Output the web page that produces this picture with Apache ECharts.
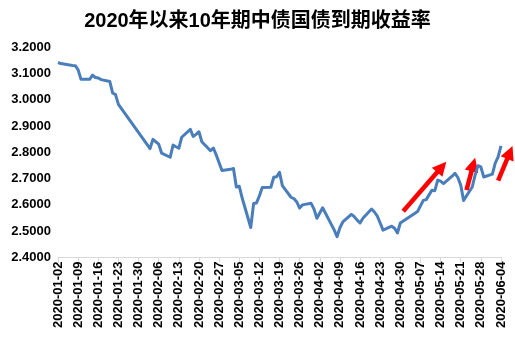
<!DOCTYPE html>
<html>
<head>
<meta charset="utf-8">
<script src="https://cdn.jsdelivr.net/npm/echarts@6/dist/echarts.min.js"></script>
<style>html,body{margin:0;padding:0;background:#fff}#c{width:515px;height:357px}</style>
</head>
<body>
<div id="c"></div>
<script>
const titleText = '2020年以来10年期中债国债到期收益率';
const startDate = '2020-01-02';
const tickLabels = ['2020-01-02','2020-01-09','2020-01-16','2020-01-23','2020-01-30','2020-02-06','2020-02-13','2020-02-20','2020-02-27','2020-03-05','2020-03-12','2020-03-19','2020-03-26','2020-04-02','2020-04-09','2020-04-16','2020-04-23','2020-04-30','2020-05-07','2020-05-14','2020-05-21','2020-05-28','2020-06-04'];
const dates = ['2020-01-02','2020-01-03','2020-01-06','2020-01-07','2020-01-08','2020-01-09','2020-01-10','2020-01-13','2020-01-14','2020-01-15','2020-01-16','2020-01-17','2020-01-20','2020-01-21','2020-01-22','2020-01-23',
'2020-02-03','2020-02-04','2020-02-05','2020-02-06','2020-02-07','2020-02-10','2020-02-11','2020-02-12','2020-02-13','2020-02-14','2020-02-17','2020-02-18','2020-02-19','2020-02-20','2020-02-21','2020-02-24','2020-02-25','2020-02-26','2020-02-27','2020-02-28',
'2020-03-02','2020-03-03','2020-03-04','2020-03-05','2020-03-06','2020-03-09','2020-03-10','2020-03-11','2020-03-12','2020-03-13','2020-03-16','2020-03-17','2020-03-18','2020-03-19','2020-03-20','2020-03-23','2020-03-24','2020-03-25','2020-03-26','2020-03-27','2020-03-30','2020-03-31',
'2020-04-01','2020-04-02','2020-04-03','2020-04-07','2020-04-08','2020-04-09','2020-04-10','2020-04-13','2020-04-14','2020-04-15','2020-04-16','2020-04-17','2020-04-20','2020-04-21','2020-04-22','2020-04-23','2020-04-24','2020-04-27','2020-04-28','2020-04-29','2020-04-30',
'2020-05-06','2020-05-07','2020-05-08','2020-05-09','2020-05-11','2020-05-12','2020-05-13','2020-05-14','2020-05-15','2020-05-18','2020-05-19','2020-05-20','2020-05-21','2020-05-22','2020-05-25','2020-05-26','2020-05-27','2020-05-28','2020-05-29',
'2020-06-01','2020-06-02','2020-06-03','2020-06-04'];
const yields = [3.141,3.137,3.132,3.130,3.129,3.113,3.077,3.077,3.093,3.084,3.082,3.076,3.069,3.025,3.019,2.982,
2.814,2.849,2.840,2.831,2.797,2.781,2.827,2.821,2.815,2.857,2.887,2.860,2.868,2.878,2.840,2.806,2.816,2.790,2.760,2.731,
2.735,2.738,2.668,2.671,2.627,2.514,2.605,2.607,2.634,2.666,2.667,2.705,2.707,2.724,2.673,2.629,2.624,2.611,2.588,2.600,2.606,2.584,
2.549,2.569,2.589,2.505,2.479,2.513,2.535,2.564,2.555,2.542,2.531,2.549,2.584,2.573,2.557,2.531,2.504,2.519,2.511,2.493,2.531,
2.575,2.596,2.617,2.620,2.656,2.654,2.694,2.690,2.681,2.709,2.720,2.704,2.675,2.617,2.668,2.713,2.749,2.744,2.706,
2.717,2.759,2.782,2.824];
// annotation arrows: [date, value] from -> to
const arrows = [
  {from:['2020-05-01',2.576], to:['2020-05-16',2.764]},
  {from:['2020-05-23',2.656], to:['2020-05-26',2.779]},
  {from:['2020-06-03',2.692], to:['2020-06-08',2.824]}
];

const DAY = 86400000;
const t0 = Date.parse(startDate);
const dayIdx = d => Math.round((Date.parse(d) - t0) / DAY);
const seriesData = dates.map((d, i) => [dayIdx(d), yields[i]]);
const lastIdx = dayIdx(tickLabels[tickLabels.length - 1]);

const FONT = '"Liberation Sans", Arial, "Noto Sans CJK SC", sans-serif';
const chart = echarts.init(document.getElementById('c'), null, {renderer: 'canvas'});
chart.setOption({
  animation: false,
  backgroundColor: '#fff',
  title: {
    text: titleText, left: 'center', top: 6,
    textStyle: {fontFamily: FONT, fontSize: 20, fontWeight: 'bold', color: '#000'}
  },
  grid: {left: 58, right: 14, top: 47, bottom: 99.5, containLabel: false},
  xAxis: {
    type: 'value', min: 0, max: lastIdx, interval: 7,
    axisLine: {show: true, lineStyle: {color: '#D9D9D9', width: 1}},
    axisTick: {show: true, length: 5, lineStyle: {color: '#D9D9D9'}},
    splitLine: {show: false},
    axisLabel: {
      rotate: 90, margin: 4, color: '#000', fontFamily: FONT, fontSize: 13, fontWeight: 'bold',
      formatter: v => tickLabels[Math.round(v / 7)] || ''
    }
  },
  yAxis: {
    type: 'value', min: 2.4, max: 3.2, interval: 0.1,
    axisLine: {show: false}, axisTick: {show: false}, splitLine: {show: false},
    axisLabel: {
      margin: 7, color: '#000', fontFamily: FONT, fontSize: 13, fontWeight: 'bold',
      formatter: v => v.toFixed(4)
    }
  },
  series: [{
    type: 'line', data: seriesData, symbol: 'none', clip: false,
    lineStyle: {color: '#4A7EBB', width: 3, join: 'round'}
  }]
});

const graphics = arrows.map(a => {
  const p0 = chart.convertToPixel({xAxisIndex: 0, yAxisIndex: 0}, [dayIdx(a.from[0]), a.from[1]]);
  const p1 = chart.convertToPixel({xAxisIndex: 0, yAxisIndex: 0}, [dayIdx(a.to[0]), a.to[1]]);
  const dx = p1[0] - p0[0], dy = p1[1] - p0[1], L = Math.hypot(dx, dy);
  const ux = dx / L, uy = dy / L, nx = -uy, ny = ux;
  const headL = 14, headW = 7;
  const bx = p1[0] - ux * headL, by = p1[1] - uy * headL;
  return {
    type: 'group',
    children: [
      {type: 'line', shape: {x1: p0[0], y1: p0[1], x2: bx + ux * 2, y2: by + uy * 2},
       style: {stroke: '#FF0000', lineWidth: 4.5}},
      {type: 'polygon', shape: {points: [[p1[0], p1[1]], [bx + nx * headW, by + ny * headW], [bx - nx * headW, by - ny * headW]]},
       style: {fill: '#FF0000'}}
    ]
  };
});
chart.setOption({graphic: graphics});
</script>
</body>
</html>
